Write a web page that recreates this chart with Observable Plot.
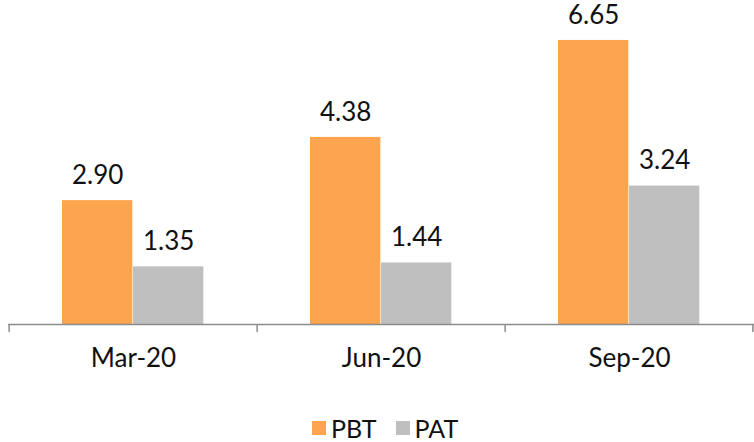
<!DOCTYPE html>
<html>
<head>
<meta charset="utf-8">
<script src="https://cdn.jsdelivr.net/npm/d3@7"></script>
<script src="https://cdn.jsdelivr.net/npm/@observablehq/plot@0.6"></script>
<style>
  body { margin: 0; background: #fff; font-family: "Lato", "Open Sans", sans-serif; }
  #chart { width: 754px; }
  .legend { display: flex; align-items: center; height: 40px; margin-top: 38px; padding-left: 312px; font-size: 25px; color: #111; }
  .legend .item { display: flex; align-items: center; margin-right: 19px; }
  .legend .sw { width: 14px; height: 14px; margin-right: 5px; }
</style>
</head>
<body>
<div id="chart"></div>
<script>
const categories = ["Mar-20", "Jun-20", "Sep-20"];
const series = ["PBT", "PAT"];
const pbt = [2.90, 4.38, 6.65];
const pat = [1.35, 1.44, 3.24];
const colors = ["#FDA44F", "#BFBFBF"];

const W = 754, H = 370, mT = 25, mB = 46, mL = 8, mR = 0;
const yMax = 7;
const step = (W - mL - mR) / categories.length;
const barW = 71, groupOff = 53;
const tickLen = 8 * yMax / (H - mT - mB);

const rows = categories.map((c, i) => ({category: c, PBT: pbt[i], PAT: pat[i]}));
const fmt = d3.format(".2f");

const chart = Plot.plot({
  width: W, height: H,
  marginTop: mT, marginBottom: mB, marginLeft: mL, marginRight: mR,
  style: {fontFamily: "Lato, 'Open Sans', sans-serif", background: "#fff", overflow: "visible"},
  x: {domain: categories, padding: 0, label: null},
  y: {domain: [0, yMax], axis: null},
  marks: [
    Plot.barY(rows, {x: "category", y: "PBT", fill: colors[0], insetLeft: groupOff, insetRight: step - groupOff - barW}),
    Plot.barY(rows, {x: "category", y: "PAT", fill: colors[1], insetLeft: groupOff + barW, insetRight: step - groupOff - 2 * barW}),
    Plot.text(rows, {x: "category", y: "PBT", text: d => fmt(d.PBT), dx: groupOff + barW / 2 - step / 2, dy: -25, fontSize: 26, fill: "#111"}),
    Plot.text(rows, {x: "category", y: "PAT", text: d => fmt(d.PAT), dx: groupOff + 1.5 * barW - step / 2, dy: -25, fontSize: 26, fill: "#111"}),
    Plot.ruleY([0], {stroke: "#8c8c8c", strokeWidth: 1.5}),
    Plot.ruleX(categories, {x: d => d, dx: -step / 2, y1: 0, y2: -tickLen, stroke: "#8c8c8c", strokeWidth: 1.5}),
    Plot.ruleX([categories[categories.length - 1]], {x: d => d, dx: step / 2 - 1, y1: 0, y2: -tickLen, stroke: "#8c8c8c", strokeWidth: 1.5}),
    Plot.axisX({tickSize: 0, tickPadding: 24, fontSize: 26, color: "#111", label: null})
  ]
});
document.getElementById("chart").appendChild(chart);

const legend = document.createElement("div");
legend.className = "legend";
series.forEach((s, i) => {
  const item = document.createElement("div");
  item.className = "item";
  const sw = document.createElement("span");
  sw.className = "sw";
  sw.style.background = colors[i];
  const t = document.createElement("span");
  t.textContent = s;
  item.appendChild(sw); item.appendChild(t);
  legend.appendChild(item);
});
document.getElementById("chart").appendChild(legend);
</script>
</body>
</html>
